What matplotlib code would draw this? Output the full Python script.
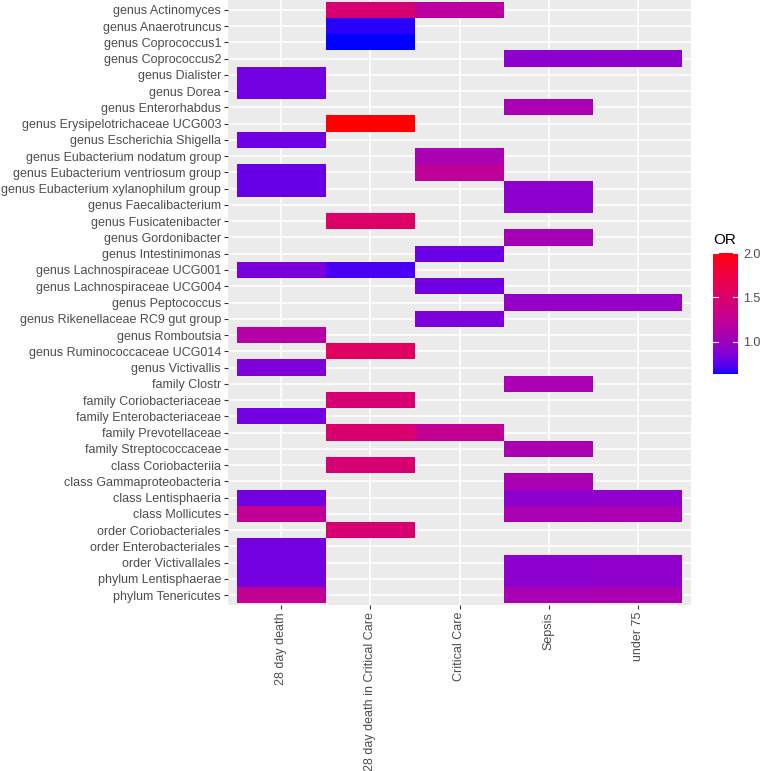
import numpy as np
import matplotlib
matplotlib.use('Agg')
import matplotlib.pyplot as plt
from matplotlib.colors import ListedColormap, Normalize

nan = np.nan

taxa = ['genus Actinomyces', 'genus Anaerotruncus', 'genus Coprococcus1', 'genus Coprococcus2',
        'genus Dialister', 'genus Dorea', 'genus Enterorhabdus', 'genus Erysipelotrichaceae UCG003',
        'genus Escherichia Shigella', 'genus Eubacterium nodatum group',
        'genus Eubacterium ventriosum group', 'genus Eubacterium xylanophilum group',
        'genus Faecalibacterium', 'genus Fusicatenibacter', 'genus Gordonibacter',
        'genus Intestinimonas', 'genus Lachnospiraceae UCG001', 'genus Lachnospiraceae UCG004',
        'genus Peptococcus', 'genus Rikenellaceae RC9 gut group', 'genus Romboutsia',
        'genus Ruminococcaceae UCG014', 'genus Victivallis', 'family Clostr',
        'family Coriobacteriaceae', 'family Enterobacteriaceae', 'family Prevotellaceae',
        'family Streptococcaceae', 'class Coriobacteriia', 'class Gammaproteobacteria',
        'class Lentisphaeria', 'class Mollicutes', 'order Coriobacteriales',
        'order Enterobacteriales', 'order Victivallales', 'phylum Lentisphaerae',
        'phylum Tenericutes']

outcomes = ['28 day death', '28 day death in Critical Care', 'Critical Care', 'Sepsis', 'under 75']

# OR per outcome, one entry per taxon (nan = not significant)
or_death28 = [nan, nan, nan, nan, 0.81, 0.81, nan, nan, 0.80, nan, 0.77, 0.77, nan, nan, nan, nan,
              0.84, nan, nan, nan, 1.15, nan, 0.85, nan, nan, 0.81, nan, nan, nan, nan, 0.81, 1.25,
              nan, 0.81, 0.81, 0.81, 1.25]
or_death28_cc = [1.45, 0.66, 0.636, nan, nan, nan, nan, 2.0, nan, nan, nan, nan, nan, 1.51, nan, nan,
                 0.70, nan, nan, nan, nan, 1.56, nan, nan, 1.45, nan, 1.48, nan, 1.45, nan, nan, nan,
                 1.45, nan, nan, nan, nan]
or_critical = [1.18, nan, nan, nan, nan, nan, nan, nan, nan, 1.07, 1.22, nan, nan, nan, nan, 0.79,
               nan, 0.80, nan, 0.84, nan, nan, nan, nan, nan, nan, 1.25, nan, nan, nan, nan, nan,
               nan, nan, nan, nan, nan]
or_sepsis = [nan, nan, nan, 0.91, nan, nan, 1.07, nan, nan, nan, nan, 0.91, 0.91, nan, 1.045, nan,
             nan, nan, 0.95, nan, nan, nan, nan, 1.07, nan, nan, nan, 1.07, nan, 1.07, 0.91, 1.07,
             nan, nan, 0.91, 0.91, 1.07]
or_under75 = [nan, nan, nan, 0.92, nan, nan, nan, nan, nan, nan, nan, nan, nan, nan, nan, nan,
              nan, nan, 0.96, nan, nan, nan, nan, nan, nan, nan, nan, nan, nan, nan, 0.92, 1.08,
              nan, nan, 0.92, 0.92, 1.08]


def lab_to_rgb(L, a, b):
    fy = (L + 16) / 116
    fx = fy + a / 500
    fz = fy - b / 200
    def finv(f):
        return np.where(f > 6 / 29, f**3, 3 * (6 / 29)**2 * (f - 4 / 29))
    X = 0.95047 * finv(fx)
    Y = finv(fy)
    Z = 1.08883 * finv(fz)
    r = 3.2406 * X - 1.5372 * Y - 0.4986 * Z
    g = -0.9689 * X + 1.8758 * Y + 0.0415 * Z
    bb = 0.0557 * X - 0.2040 * Y + 1.0570 * Z
    rgb = np.clip(np.stack([r, g, bb], axis=-1), 0, 1)
    return np.where(rgb > 0.0031308, 1.055 * rgb**(1 / 2.4) - 0.055, 12.92 * rgb)


# blue -> red gradient in Lab space, like scale_fill_gradient
t = np.linspace(0, 1, 256)
lab_blue = np.array([32.30, 79.19, -107.86])
lab_red = np.array([53.24, 80.09, 67.20])
lab = lab_blue[None, :] * (1 - t[:, None]) + lab_red[None, :] * t[:, None]
cmap = ListedColormap(lab_to_rgb(lab[:, 0], lab[:, 1], lab[:, 2]))

mat = np.array([or_death28, or_death28_cc, or_critical, or_sepsis, or_under75]).T
vmin, vmax = np.nanmin(mat), np.nanmax(mat)
norm = Normalize(vmin=vmin, vmax=vmax)

W, H = 763, 771
fig = plt.figure(figsize=(W / 100, H / 100), dpi=100)
plt.rcParams['font.family'] = ['Liberation Sans', 'DejaVu Sans']

ax = fig.add_axes([228 / W, 1 - 605 / H, 463 / W, 605 / H])
ax.set_facecolor('#EBEBEB')
nr, nc = mat.shape
xe = np.arange(nc + 1) - 0.5
ye = np.arange(nr + 1) - 0.5
ax.pcolormesh(xe, ye, np.ma.masked_invalid(mat), cmap=cmap, norm=norm, zorder=2)
ax.set_xlim(-0.6, nc - 0.4)
ax.set_ylim(nr - 0.4, -0.6)
ax.set_xticks(np.arange(nc))
ax.set_xticklabels(outcomes, rotation=90, va='top', ha='center')
ax.set_yticks(np.arange(nr))
ax.set_yticklabels(taxa)
ax.grid(color='white', linewidth=1.2, zorder=1)
ax.set_axisbelow(True)
ax.tick_params(axis='both', length=3, width=0.8, color='#333333', labelcolor='#4D4D4D',
               labelsize=9, pad=2)
for s in ax.spines.values():
    s.set_visible(False)

# colour bar
cax = fig.add_axes([713 / W, 1 - 374 / H, 25 / W, 121 / H])
grad = np.linspace(vmin, vmax, 300).reshape(-1, 1)
cax.imshow(grad, cmap=cmap, norm=norm, aspect='auto', origin='lower',
           extent=[0, 1, vmin, vmax])
cax.set_xlim(0, 1)
cax.set_ylim(vmin, vmax)
cax.set_xticks([])
cbar_ticks = [1.0, 1.5, 2.0]
for v in cbar_ticks:
    cax.plot([0, 0.2], [v, v], color='white', linewidth=0.8)
    cax.plot([0.8, 1], [v, v], color='white', linewidth=0.8)
cax.yaxis.tick_right()
cax.set_yticks(cbar_ticks)
cax.set_yticklabels(['%.1f' % v for v in cbar_ticks])
cax.tick_params(axis='y', length=0, labelsize=9, labelcolor='#4D4D4D', pad=4)
for s in cax.spines.values():
    s.set_visible(False)
fig.text(713 / W, 1 - 240 / H, 'OR', fontsize=11, ha='left', va='center', color='black')

plt.savefig('out.png', dpi=100)
